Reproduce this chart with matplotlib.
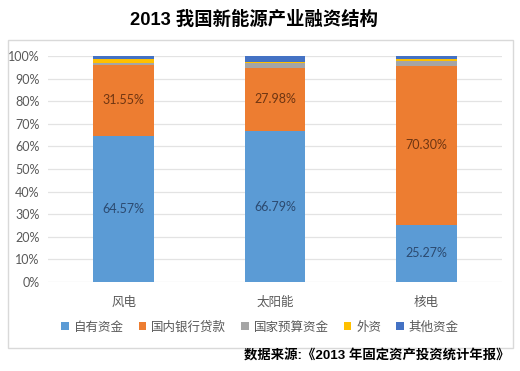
import numpy as np
import matplotlib.pyplot as plt
from matplotlib.patches import Rectangle

cjk = ['Noto Sans CJK SC', 'DejaVu Sans']
num_font = ['Lato', 'Noto Sans CJK SC']

title = "2013 我国新能源产业融资结构"
source = "数据来源:《2013 年固定资产投资统计年报》"

categories = ["风电", "太阳能", "核电"]
series_names = ["自有资金", "国内银行贷款", "国家预算资金", "外资", "其他资金"]
self_funds = [64.57, 66.79, 25.27]
bank_loans = [31.55, 27.98, 70.30]
state_budget = [0.68, 2.00, 2.20]
foreign = [1.80, 0.53, 0.83]
other = [1.40, 2.70, 1.40]
yticks = [0, 10, 20, 30, 40, 50, 60, 70, 80, 90, 100]

colors = ['#5B9BD5', '#ED7D31', '#A5A5A5', '#FFC000', '#4472C4']
label_colors = ['#2c4a70', '#6e3512']

fig = plt.figure(figsize=(5.2, 3.71), dpi=100)
fig.patch.set_facecolor('white')

# chart frame
fig.patches.append(Rectangle((8 / 520, 1 - 348 / 371), 505 / 520, 308 / 371,
                             transform=fig.transFigure, fill=False,
                             edgecolor='#D9D9D9', linewidth=1))

ax = fig.add_axes([48 / 520, 1 - 282 / 371, 454 / 520, 226 / 371])
x = np.arange(len(categories))
all_series = [self_funds, bank_loans, state_budget, foreign, other]
bottom = np.zeros(len(categories))
for i, vals in enumerate(all_series):
    vals = np.array(vals)
    ax.bar(x, vals, width=0.4, bottom=bottom, color=colors[i], label=series_names[i], zorder=3)
    if i < 2:
        for xi, b, v in zip(x, bottom, vals):
            ax.text(xi, b + v / 2, f"{v:.2f}%", ha='center', va='center',
                    fontsize=9, color=label_colors[i], family=num_font, zorder=4)
    bottom += vals

ax.set_xlim(-0.5, 2.5)
ax.set_ylim(0, 100)
ax.set_yticks(yticks)
ax.set_yticklabels([f"{t}%" for t in yticks], family=num_font, fontsize=9, color='#595959')
ax.set_xticks(x)
ax.set_xticklabels(categories, family=cjk, fontsize=9, color='#595959')
ax.tick_params(axis='both', length=0)
ax.tick_params(axis='y', pad=6)
ax.tick_params(axis='x', pad=10)
ax.grid(axis='y', color='#E3E3E3', linewidth=0.9, zorder=0)
for s in ax.spines.values():
    s.set_visible(False)

leg = ax.legend(loc='center', bbox_to_anchor=(0.5, 1 - 327 / 371), bbox_transform=fig.transFigure,
                ncol=5, frameon=False, prop={'family': cjk, 'size': 9},
                handlelength=0.6, handleheight=0.6, handletextpad=0.4, columnspacing=1.2)
for t in leg.get_texts():
    t.set_color('#595959')

fig.text(254 / 520, 1 - 20 / 371, title, ha='center', va='center', fontsize=13.2,
         fontweight='bold', family=['Liberation Sans', 'Noto Sans CJK SC'])
fig.text(510 / 520, 1 - 356 / 371, source, ha='right', va='center', fontsize=9.6,
         fontweight='bold', family=['Liberation Sans', 'Noto Sans CJK SC'])

fig.savefig('out.png', dpi=100)
